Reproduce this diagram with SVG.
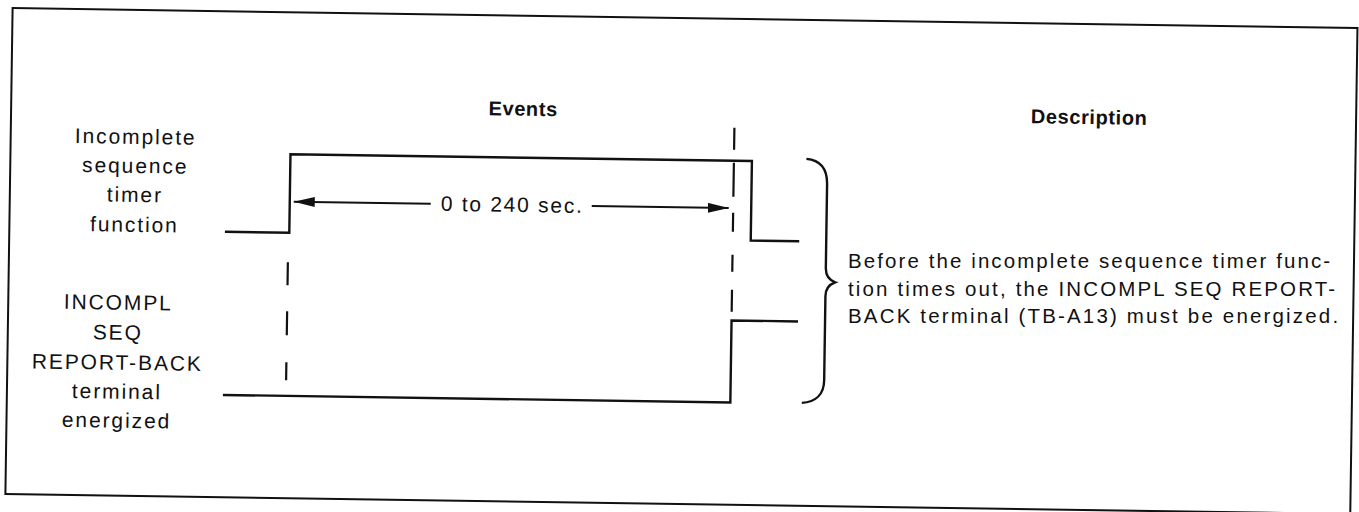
<svg xmlns="http://www.w3.org/2000/svg" width="1359" height="512" viewBox="0 0 1359 512">
  <style>
    text { font-family: "Liberation Sans", Arial, sans-serif; font-size: 21px; fill: #111; letter-spacing: 1.9px; }
    .head { font-weight: bold; font-size: 20px; letter-spacing: 0.6px; }
    .lbl { text-anchor: middle; }
    .desc { font-size: 20.5px; }
    .sig { fill: none; stroke: #111; stroke-width: 2.4; stroke-linejoin: miter; }
    .dash { fill: none; stroke: #111; stroke-width: 2.2; }
    .frame { fill: none; stroke: #111; stroke-width: 2; }
    .arr { fill: none; stroke: #111; stroke-width: 2; }
  </style>
  <defs>
    <marker id="ah" markerUnits="userSpaceOnUse" markerWidth="22" markerHeight="12" refX="21" refY="5" orient="auto">
      <path d="M0,0 L21,5 L0,10 Z" fill="#111"/>
    </marker>
  </defs>
  <rect width="1359" height="512" fill="#fff"/>
  <g transform="rotate(0.85 680 256)">
    <g id="frame">
      <rect class="frame" x="9" y="18" width="1345" height="486"/>
    </g>
    <g id="headings">
      <text class="head lbl" x="521" y="118">Events</text>
      <text class="head lbl" x="1087" y="118">Description</text>
    </g>
    <g id="timer-label">
      <text class="lbl" x="134" y="152">Incomplete</text>
      <text class="lbl" x="134" y="181">sequence</text>
      <text class="lbl" x="134" y="210">timer</text>
      <text class="lbl" x="134" y="240">function</text>
    </g>
    <g id="reportback-label">
      <text class="lbl" x="119" y="318">INCOMPL</text>
      <text class="lbl" x="119" y="348">SEQ</text>
      <text class="lbl" x="119" y="378">REPORT-BACK</text>
      <text class="lbl" x="119" y="407">terminal</text>
      <text class="lbl" x="119" y="436">energized</text>
    </g>
    <g id="timer-signal">
      <path class="sig" d="M224.6,238.5 H289 V160 H750.5 V239.5 H799"/>
    </g>
    <g id="reportback-signal">
      <path class="sig" d="M225,401.7 H732.5 V319.7 H799"/>
    </g>
    <g id="connectors">
      <line class="arr" x1="430" y1="207.4" x2="293" y2="207.4" marker-end="url(#ah)"/>
      <line class="arr" x1="591" y1="207.4" x2="728" y2="207.4" marker-end="url(#ah)"/>
      <path class="dash" d="M732.5,127 V149 M732.5,162 V196 M732.5,212 V231 M732.5,254 V271 M732.5,289 V311"/>
      <path class="dash" d="M288,268 V291 M288,317 V341 M288,368 V386"/>
      <path class="sig" d="M805,157 C818,158 826,166 826,182 L826,266 C826,274 830,278 835.5,280 C830,282 826,286 826,294 L826,378 C826,392 818,400 804,401"/>
    </g>
    <g id="duration">
      <text x="440" y="214.4" textLength="143" lengthAdjust="spacing">0 to 240 sec.</text>
    </g>
  </g>
  <g id="description">
    <text class="desc" x="848" y="267.5" textLength="484" lengthAdjust="spacing">Before the incomplete sequence timer func-</text>
    <text class="desc" x="848" y="295.5" textLength="489" lengthAdjust="spacing">tion times out, the INCOMPL SEQ REPORT-</text>
    <text class="desc" x="848" y="322.5" textLength="492" lengthAdjust="spacing">BACK terminal (TB-A13) must be energized.</text>
  </g>
</svg>
